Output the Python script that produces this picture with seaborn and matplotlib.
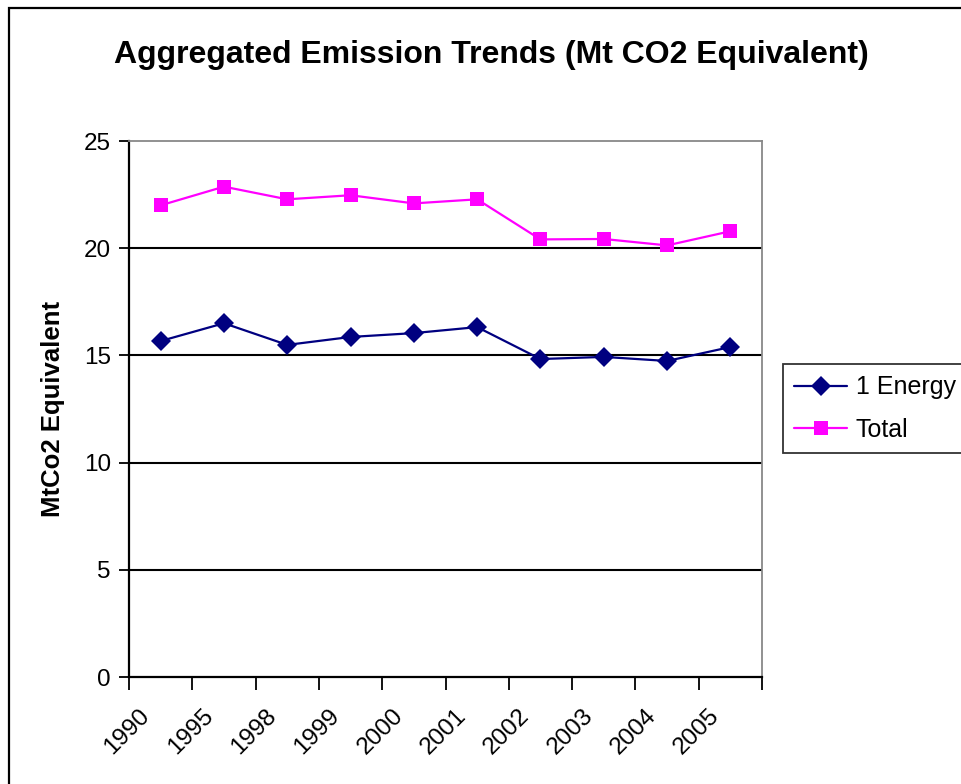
import matplotlib
matplotlib.use("Agg")
import matplotlib.pyplot as plt
import seaborn as sns
import pandas as pd
import numpy as np
from matplotlib.patches import Rectangle

years = ["1990", "1995", "1998", "1999", "2000", "2001", "2002", "2003", "2004", "2005"]
energy = [15.67, 16.5, 15.49, 15.86, 16.04, 16.32, 14.83, 14.93, 14.74, 15.39]
total = [22.0, 22.87, 22.28, 22.47, 22.09, 22.28, 20.41, 20.43, 20.13, 20.79]
series_names = ["1 Energy", "Total"]
y_ticks = [0, 5, 10, 15, 20, 25]

sns.set_theme(style="white")
plt.rcParams["font.family"] = ["Liberation Sans", "DejaVu Sans"]
for k in ["text.color", "axes.labelcolor", "xtick.color", "ytick.color"]:
    plt.rcParams[k] = "black"

W, H = 961, 784
fig = plt.figure(figsize=(W / 100, H / 100), dpi=100)
fig.patch.set_facecolor("white")

# outer chart border
fig.add_artist(Rectangle((9 / W, -0.1), 1.2, 1 - 8 / H + 0.1, transform=fig.transFigure,
                         fill=False, edgecolor="black", linewidth=1.6))

left, right, top, bottom = 129, 762, 141, 677
ax = fig.add_axes([left / W, 1 - bottom / H, (right - left) / W, (bottom - top) / H])
ax.set_facecolor("white")

pos = np.arange(len(years)) + 0.5
df = pd.DataFrame({
    "pos": np.concatenate([pos, pos]),
    "value": energy + total,
    "series": [series_names[0]] * len(years) + [series_names[1]] * len(years),
})

palette = {series_names[0]: "#000080", series_names[1]: "#FF00FF"}
markers = {series_names[0]: "D", series_names[1]: "s"}
sns.lineplot(data=df, x="pos", y="value", hue="series", style="series",
             palette=palette, markers=markers, dashes=False, markersize=10,
             markeredgewidth=0, linewidth=1.6, ax=ax, legend=True)

ax.set_xlim(0, len(years))
ax.set_ylim(0, 25)
ax.set_yticks(y_ticks)
ax.set_yticklabels([str(t) for t in y_ticks], fontsize=17.5)
for t in y_ticks[1:-1]:
    ax.axhline(t, color="black", linewidth=1.5, zorder=0)

# category boundary ticks (major) and labels (minor, no tick mark)
ax.set_xticks(np.arange(len(years) + 1))
ax.set_xticklabels([])
label_shift = 22 / ((right - left) / len(years))
ax.set_xticks(pos - label_shift, minor=True)
ax.set_xticklabels(years, minor=True, rotation=45, ha="right", va="top",
                   rotation_mode="anchor", fontsize=17.5)
ax.tick_params(axis="x", which="major", direction="out", length=9, width=1.3, color="black", bottom=True)
ax.tick_params(axis="x", which="minor", length=0, pad=20)
ax.tick_params(axis="y", direction="out", length=7, width=1.3, color="black", left=True, pad=6)

for s in ["left", "bottom"]:
    ax.spines[s].set_color("black")
    ax.spines[s].set_linewidth(1.6)
for s in ["top", "right"]:
    ax.spines[s].set_color("#888888")
    ax.spines[s].set_linewidth(1.3)

ax.set_xlabel("")
ax.set_ylabel("MtCo2 Equivalent", fontsize=18.5, fontweight="bold")
ax.yaxis.set_label_coords((65 - left) / (right - left), 0.5)

handles, labels = ax.get_legend_handles_labels()
leg = ax.legend(handles, labels, loc="upper left",
                bbox_to_anchor=(783 / W, 1 - 365 / H, 195 / W, 0.001),
                mode="expand", bbox_transform=fig.transFigure, fontsize=18, frameon=True,
                fancybox=False, edgecolor="black", handlelength=2.1, handletextpad=0.35,
                borderpad=0.45, labelspacing=0.75, borderaxespad=0)
leg.get_frame().set_linewidth(1.3)

fig.text(491 / W, 1 - 55 / H, "Aggregated Emission Trends (Mt CO2 Equivalent)",
         ha="center", va="center", fontsize=23, fontweight="bold")

fig.savefig("out.png", dpi=100)
